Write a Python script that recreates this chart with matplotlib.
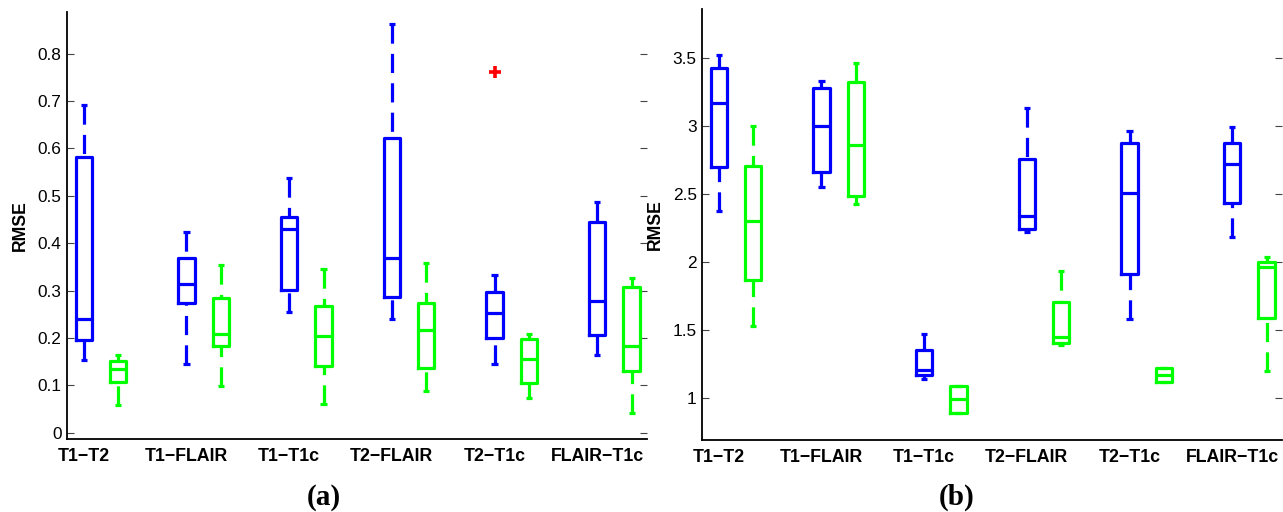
import numpy as np
import matplotlib.pyplot as plt

pairs = ['T1\u2212T2', 'T1\u2212FLAIR', 'T1\u2212T1c', 'T2\u2212FLAIR', 'T2\u2212T1c', 'FLAIR\u2212T1c']

# panel (a): five-number summaries
a_blue_lo = [0.153, 0.145, 0.254, 0.240, 0.146, 0.165]
a_blue_q1 = [0.196, 0.273, 0.301, 0.286, 0.200, 0.206]
a_blue_med = [0.241, 0.313, 0.429, 0.369, 0.253, 0.278]
a_blue_q3 = [0.581, 0.368, 0.456, 0.623, 0.296, 0.445]
a_blue_hi = [0.691, 0.423, 0.537, 0.862, 0.333, 0.487]
a_blue_out = [[], [], [], [], [0.761], []]
a_green_lo = [0.058, 0.099, 0.061, 0.089, 0.074, 0.041]
a_green_q1 = [0.106, 0.184, 0.141, 0.137, 0.104, 0.130]
a_green_med = [0.135, 0.208, 0.205, 0.217, 0.155, 0.183]
a_green_q3 = [0.152, 0.284, 0.268, 0.274, 0.197, 0.308]
a_green_hi = [0.164, 0.354, 0.345, 0.359, 0.208, 0.327]

# panel (b)
b_blue_lo = [2.375, 2.547, 1.135, 2.220, 1.576, 2.180]
b_blue_q1 = [2.696, 2.662, 1.167, 2.240, 1.907, 2.430]
b_blue_med = [3.169, 3.000, 1.204, 2.336, 2.507, 2.718]
b_blue_q3 = [3.426, 3.275, 1.351, 2.757, 2.871, 2.871]
b_blue_hi = [3.517, 3.331, 1.468, 3.128, 2.963, 2.990]
b_green_lo = [1.530, 2.424, 0.890, 1.387, 1.118, 1.198]
b_green_q1 = [1.865, 2.483, 0.890, 1.400, 1.118, 1.584]
b_green_med = [2.300, 2.858, 0.988, 1.449, 1.167, 1.959]
b_green_q3 = [2.706, 3.319, 1.088, 1.706, 1.216, 2.000]
b_green_hi = [3.000, 3.463, 1.088, 1.932, 1.216, 2.032]

plt.rcParams['font.family'] = ['Liberation Sans', 'DejaVu Sans']

LW = 2.3
BLUE = '#0000ff'
GREEN = '#00ff00'


def make_stats(lo, q1, med, q3, hi, out=None):
    stats = []
    for i in range(len(lo)):
        stats.append(dict(whislo=lo[i], q1=q1[i], med=med[i], q3=q3[i], whishi=hi[i],
                          fliers=out[i] if out else []))
    return stats


def draw_group(ax, stats, positions, color):
    res = ax.bxp(stats, positions=positions, widths=0.16, capwidths=0.06,
                 boxprops=dict(color=color, linewidth=LW),
                 whiskerprops=dict(color=color, linewidth=LW, linestyle=(0, (6, 3.2))),
                 capprops=dict(color=color, linewidth=LW, solid_capstyle='butt'),
                 medianprops=dict(color=color, linewidth=LW),
                 flierprops=dict(marker='+', markeredgecolor='red', markersize=9,
                                 markeredgewidth=2.6),
                 manage_ticks=False)
    # dashes start at the cap end like the original
    for w in res['whiskers']:
        x, y = w.get_data()
        w.set_data(x[::-1], y[::-1])


def style_axes(ax, ylim, yticks, yticklabels):
    x = np.arange(1, len(pairs) + 1)
    ax.set_xlim(0.834, 6.485)
    ax.set_ylim(*ylim)
    ax.set_xticks(x)
    ax.set_xticklabels(pairs, fontweight='bold', fontsize=12.8)
    ax.set_yticks(yticks)
    ax.set_yticklabels(yticklabels, fontsize=12.4)
    ax.tick_params(axis='x', length=0, pad=6.5)
    ax.tick_params(axis='y', direction='in', length=5, width=0.8, color='#444444',
                   right=True, pad=3.6)
    ax.spines['top'].set_visible(False)
    ax.spines['right'].set_visible(False)
    for s in ('left', 'bottom'):
        ax.spines[s].set_linewidth(1.3)
    ax.set_ylabel('RMSE', fontweight='bold', fontsize=12.7)
    ax.yaxis.set_label_coords(-0.066, 0.5)


W, H = 1283, 512
fig = plt.figure(figsize=(W / 100, H / 100), dpi=100)

ax1 = fig.add_axes([66.7 / W, (H - 439.3) / H, 580.3 / W, (439.3 - 12) / H])
ax2 = fig.add_axes([701.7 / W, (H - 440) / H, 580.3 / W, (440 - 9.3) / H])

pos = np.arange(1, len(pairs) + 1)
off = 0.335

draw_group(ax1, make_stats(a_blue_lo, a_blue_q1, a_blue_med, a_blue_q3, a_blue_hi, a_blue_out), pos, BLUE)
draw_group(ax1, make_stats(a_green_lo, a_green_q1, a_green_med, a_green_q3, a_green_hi), pos + off, GREEN)
style_axes(ax1, (-0.014, 0.888), np.arange(0, 0.85, 0.1),
           ['0', '0.1', '0.2', '0.3', '0.4', '0.5', '0.6', '0.7', '0.8'])

draw_group(ax2, make_stats(b_blue_lo, b_blue_q1, b_blue_med, b_blue_q3, b_blue_hi), pos, BLUE)
draw_group(ax2, make_stats(b_green_lo, b_green_q1, b_green_med, b_green_q3, b_green_hi), pos + off, GREEN)
style_axes(ax2, (0.689, 3.856), [1, 1.5, 2, 2.5, 3, 3.5], ['1', '1.5', '2', '2.5', '3', '3.5'])

fig.text(0.252, 0.029, '(a)', ha='center', va='center', fontsize=21, fontweight='bold',
         family=['Liberation Serif', 'DejaVu Serif'])
fig.text(0.746, 0.029, '(b)', ha='center', va='center', fontsize=21, fontweight='bold',
         family=['Liberation Serif', 'DejaVu Serif'])

fig.savefig('out.png', dpi=100)
